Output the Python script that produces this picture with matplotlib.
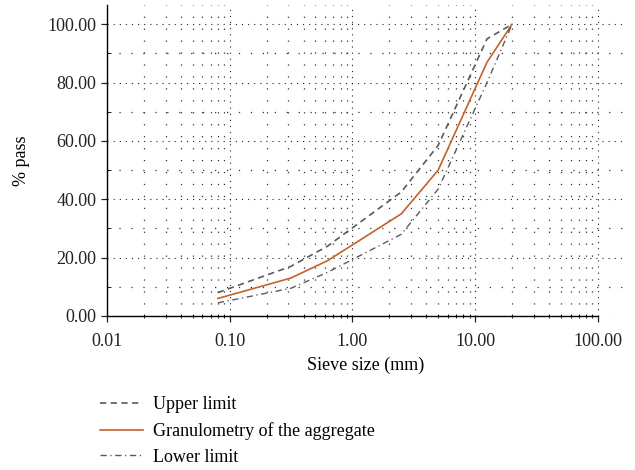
import numpy as np
import matplotlib
matplotlib.use('Agg')
import matplotlib.pyplot as plt
from matplotlib.ticker import FixedLocator, FuncFormatter, LogLocator, MultipleLocator

# sieve sizes (mm) and % passing
sieve = [0.08, 0.315, 0.63, 2.5, 5.0, 12.5, 20.0]
upper = [8.0, 17.0, 24.0, 42.5, 58.5, 95.0, 100.0]
aggregate = [6.0, 13.0, 19.0, 35.0, 50.0, 87.0, 100.0]
lower = [4.5, 9.5, 15.0, 28.0, 43.5, 80.0, 100.0]

xticks = [0.01, 0.1, 1, 10, 100]
yticks = [0, 20, 40, 60, 80, 100]

plt.rcParams['font.family'] = 'Liberation Serif'
plt.rcParams['font.size'] = 13
plt.rcParams['lines.scale_dashes'] = False

fig = plt.figure(figsize=(6.35, 4.7), dpi=100)
ax = fig.add_axes([0.1685, 0.3277, 0.8155, 0.661])

l1, = ax.plot(sieve, upper, color='#5a5a5a', lw=1.2, ls=(0, (4.5, 3.2)), label='Upper limit')
l2, = ax.plot(sieve, aggregate, color='#c4622a', lw=1.2, label='Granulometry of the aggregate')
l3, = ax.plot(sieve, lower, color='#5a5a5a', lw=1.0, ls=(0, (4.5, 2.6, 0.9, 2.6)), label='Lower limit')

ax.set_xscale('log')
ax.set_xlim(0.01, 166)
ax.set_ylim(0, 106.5)

ax.xaxis.set_major_locator(FixedLocator(xticks))
ax.xaxis.set_minor_locator(LogLocator(base=10, subs=np.arange(2, 10), numticks=20))
ax.xaxis.set_major_formatter(FuncFormatter(lambda v, p: '%.2f' % v))
ax.xaxis.set_minor_formatter(FuncFormatter(lambda v, p: ''))
ax.yaxis.set_major_locator(FixedLocator(yticks))
ax.yaxis.set_minor_locator(MultipleLocator(10))
ax.yaxis.set_major_formatter(FuncFormatter(lambda v, p: '%.2f' % v))

# dotted grids
ax.grid(True, which='major', axis='both', color='#222222', lw=0.8, ls=(0, (0.8, 3.6)))
ax.grid(True, which='minor', axis='both', color='#333333', lw=0.9, ls=(0, (0.9, 7.7)))
ax.set_axisbelow(True)

for s in ['top', 'right']:
    ax.spines[s].set_visible(False)
ax.spines['bottom'].set_bounds(0.01, 100)
ax.spines['bottom'].set_linewidth(1.0)
ax.spines['left'].set_linewidth(1.0)

ax.tick_params(axis='both', which='major', direction='out', length=4, width=0.9, colors='#222222', labelcolor='#222222')
ax.tick_params(axis='x', which='minor', direction='inout', length=3, width=0.6)
ax.tick_params(axis='y', which='minor', direction='in', length=3, width=0.6)
ax.tick_params(axis='x', which='major', pad=8)

ax.set_xlabel('Sieve size (mm)', labelpad=5)
ax.set_ylabel('% pass', labelpad=13)

fig.legend(handles=[l1, l2, l3], loc='upper left', bbox_to_anchor=(0.146, 0.172), bbox_transform=fig.transFigure,
           frameon=False, handlelength=2.4, handletextpad=0.55, labelspacing=0.48, borderaxespad=0)

fig.savefig('out.png', dpi=100)
